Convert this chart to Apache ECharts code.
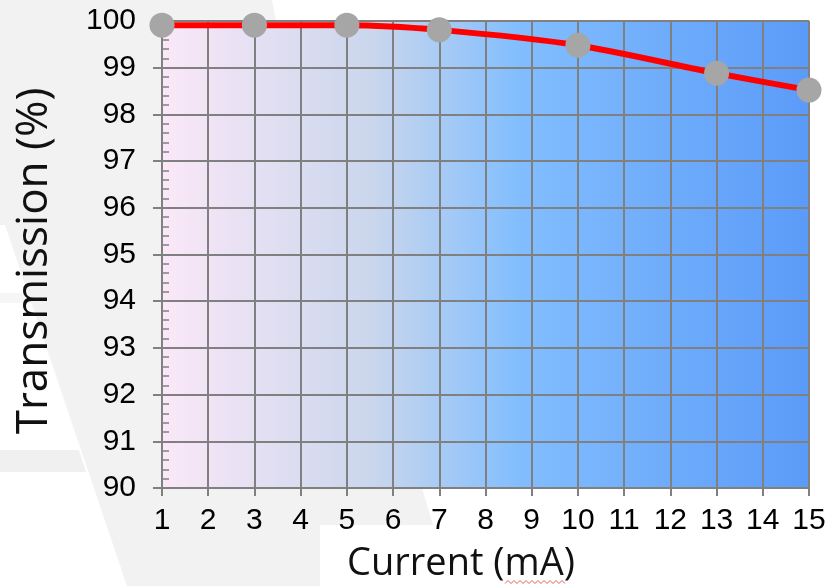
<!DOCTYPE html>
<html>
<head>
<meta charset="utf-8">
<script src="https://cdn.jsdelivr.net/npm/echarts@6/dist/echarts.min.js"></script>
<style>html,body{margin:0;padding:0;background:#fff;}#c{width:830px;height:586px;}</style>
</head>
<body>
<div id="c"></div>
<script>
var currents = [1, 3, 5, 7, 10, 13, 15];
var transmission = [99.91, 99.91, 99.91, 99.81, 99.48, 98.88, 98.52];
var xTicks = [1,2,3,4,5,6,7,8,9,10,11,12,13,14,15];
var yTicks = [90,91,92,93,94,95,96,97,98,99,100];
var xTitle = 'Current (mA)';
var yTitle = 'Transmission (%)';

var chart = echarts.init(document.getElementById('c'), null, {renderer: 'canvas'});
var tickFont = 'Liberation Sans, Arial, sans-serif';
var titleFont = 'Open Sans, Noto Sans, sans-serif';

// decorative squiggle under "mA"
var squig = [];
for (var i = 0; i <= 20; i++) squig.push([505 + i * 3, 582 + (i % 2 ? -1.5 : 1.5)]);

var option = {
  animation: false,
  backgroundColor: '#ffffff',
  graphic: [
    {type: 'polygon', z: -10, silent: true,
     shape: {points: [[0,0],[272,0],[276,20],[700,20],[700,488],[422,488],[433,525],[320,525],[320,586],[127,586],[5,225],[0,225]]},
     style: {fill: '#f2f2f2'}},
    {type: 'polygon', z: -10, silent: true,
     shape: {points: [[0,450],[79,450],[86,472],[0,472]]}, style: {fill: '#f0f0f0'}},
    {type: 'polygon', z: -10, silent: true,
     shape: {points: [[0,293],[28,293],[31,303],[0,303]]}, style: {fill: '#f6f6f6'}},
    {type: 'text', z: 10, silent: true, x: 461, y: 564,
     style: {text: xTitle, fontFamily: titleFont, fontSize: 38, fill: '#111', align: 'center', verticalAlign: 'middle'}},
    {type: 'text', z: 10, silent: true, x: 34, y: 261, rotation: Math.PI / 2,
     style: {text: yTitle, fontFamily: titleFont, fontSize: 44, fill: '#111', align: 'center', verticalAlign: 'middle'}},
    {type: 'polyline', z: 10, silent: true,
     shape: {points: squig}, style: {stroke: '#e06060', lineWidth: 1, fill: null}}
  ],
  grid: {
    left: 162, right: 21, top: 21, bottom: 98,
    show: true,
    borderColor: '#dcdcdc', borderWidth: 2,
    backgroundColor: new echarts.graphic.LinearGradient(0, 0, 1, 0, [
      {offset: 0, color: '#fbe8f8'},
      {offset: 0.33, color: '#c9d6ec'},
      {offset: 0.55, color: '#82befe'},
      {offset: 1, color: '#5b9bf8'}
    ])
  },
  xAxis: {
    type: 'value', min: xTicks[0], max: xTicks[xTicks.length - 1], interval: 1,
    axisLine: {show: true, lineStyle: {color: '#808080', width: 2}},
    axisTick: {show: true, length: 8, lineStyle: {color: '#808080', width: 2}},
    axisLabel: {fontFamily: tickFont, fontSize: 30, color: '#000', margin: 18},
    splitLine: {show: true, lineStyle: {color: '#808080', width: 2}}
  },
  yAxis: [{
    type: 'value', min: yTicks[0], max: yTicks[yTicks.length - 1], interval: 1,
    axisLine: {show: true, lineStyle: {color: '#808080', width: 2}},
    axisTick: {show: true, length: 9, lineStyle: {color: '#808080', width: 2}},
    axisLabel: {fontFamily: tickFont, fontSize: 30, color: '#000', margin: 26},
    splitLine: {show: true, lineStyle: {color: '#808080', width: 2}}
  }, {
    type: 'value', position: 'left', min: yTicks[0], max: yTicks[yTicks.length - 1], interval: 1,
    axisLine: {show: false},
    axisTick: {show: false, inside: true},
    minorTick: {show: true, splitNumber: 5, length: 7, lineStyle: {color: '#808080', width: 1.5}},
    axisLabel: {show: false},
    splitLine: {show: false}
  }],
  series: [{
    type: 'line',
    data: currents.map(function (c, i) { return [c, transmission[i]]; }),
    smooth: 0.25,
    clip: false,
    symbol: 'circle',
    symbolSize: 25,
    lineStyle: {color: '#ff0000', width: 6},
    itemStyle: {color: '#a6a6a6'},
    z: 5
  }]
};
chart.setOption(option);
</script>
</body>
</html>
